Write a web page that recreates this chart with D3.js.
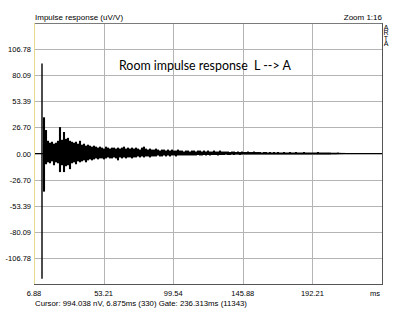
<!DOCTYPE html>
<html>
<head>
<meta charset="utf-8">
<script src="https://cdn.jsdelivr.net/npm/d3@7"></script>
<style>
  body { margin: 0; background: #fff; }
  svg { display: block; }
  text { font-family: "Liberation Sans", Arial, sans-serif; fill: #000; }
</style>
</head>
<body>
<div id="chart"></div>
<script>
// axis ticks
const xTicks = [6.88, 53.21, 99.54, 145.88, 192.21];
const yTicks = [-106.78, -80.09, -53.39, -26.70, 0, 26.70, 53.39, 80.09, 106.78];
const xDomain = [6.88, 238.54];
const yDomain = [-133.48, 133.48];

// envelope of the impulse response (uV/V), one sample every 1.3313 ms from 6.88 ms
const sampleStartMs = 6.88;
const sampleStepMs = 1.3313;
const upper = [
  0, 0, 0, 0, 92, 37, 24, 13, 11, 12,
  10, 11, 13, 27, 14, 22, 15, 16, 13, 12,
  11, 12, 10, 13, 9, 10, 8, 9, 8, 7,
  8, 7, 6, 7, 6, 5, 7, 6, 5, 6,
  6, 5, 6, 5, 6, 7, 5, 6, 5, 6,
  5, 6, 5, 4, 6, 7, 5, 4, 5, 4,
  4, 5, 4, 3, 4, 4, 3, 4, 3, 4,
  3, 3, 4, 3, 3, 2, 3, 3, 2, 3,
  3, 2, 3, 3, 2, 3, 2, 3, 2, 2,
  3, 2, 2, 3, 2, 2, 2, 2, 1.5, 2,
  2, 1.5, 2, 1.5, 2, 1.5, 1.5, 2, 1.5, 1.5,
  2, 1.5, 1.5, 1.5, 1, 1.5, 1.5, 1, 1.5, 1,
  1.5, 1, 1.5, 1, 1, 1.5, 1, 1, 1.5, 1,
  1, 1.5, 1, 1, 1, 1.5, 1, 1, 1, 1,
  1, 1, 1.5, 1, 1, 1, 1, 1, 1, 0.8,
  0.8, 0.8, 1, 0.7, 0.6, 0.6, 0.5, 0.5, 0.5, 0.5,
  0.5, 0.5, 0.5, 0.5, 0.5, 0.5, 0.5, 0.5, 0.5, 0.5,
  0.5, 0.5, 0.5, 0.5, 0.5
];
const lower = [
  0, 0, 0, 0, -128, -39, -11, -9, -10, -8,
  -12, -9, -10, -19, -12, -19, -13, -12, -16, -10,
  -9, -11, -8, -9, -8, -7, -9, -7, -6, -7,
  -6, -5, -6, -5, -5, -6, -5, -4, -5, -5,
  -4, -5, -7, -4, -5, -4, -5, -4, -4, -5,
  -4, -4, -3, -4, -3, -4, -3, -3, -4, -3,
  -3, -3, -2, -3, -3, -2, -3, -2, -3, -2,
  -2, -3, -2, -2, -2, -2, -2, -2, -2, -2,
  -2, -2, -1.5, -2, -2, -1.5, -2, -1.5, -2, -1.5,
  -1.5, -1.5, -2, -1.5, -1.5, -1.5, -1, -1.5, -1.5, -1,
  -1.5, -1, -1, -1.5, -1, -1, -1, -1, -1, -1,
  -1, -1, -1, -1, -1, -1, -1, -1, -1, -1,
  -1, -1, -1, -1, -1, -1, -1, -1, -1, -1,
  -1, -1, -1, -1, -1, -1, -1, -1, -1, -1,
  -1, -1, -1, -1, -1, -1, -1, -1, -1, -0.8,
  -0.8, -0.8, -0.7, -0.6, -0.6, -0.5, -0.5, -0.5, -0.5, -0.5,
  -0.5, -0.5, -0.5, -0.5, -0.5, -0.5, -0.5, -0.5, -0.5, -0.5,
  -0.5, -0.5, -0.5, -0.5, -0.5
];

const width = 405, height = 310;
const margin = {top: 23, right: 23, bottom: 26, left: 34};

const svg = d3.select("#chart").append("svg")
  .attr("width", width)
  .attr("height", height);

const x = d3.scaleLinear().domain(xDomain).range([margin.left, width - margin.right]);
const y = d3.scaleLinear().domain(yDomain).range([height - margin.bottom, margin.top]);

// grid
svg.append("g")
  .selectAll("line")
  .data(yTicks)
  .enter().append("line")
  .attr("x1", x.range()[0]).attr("x2", x.range()[1])
  .attr("y1", d => Math.round(y(d)) + 0.5).attr("y2", d => Math.round(y(d)) + 0.5)
  .attr("stroke", "#b4b4b4");

svg.append("g")
  .selectAll("line")
  .data(xTicks.slice(1))
  .enter().append("line")
  .attr("x1", d => Math.round(x(d)) + 0.5).attr("x2", d => Math.round(x(d)) + 0.5)
  .attr("y1", y.range()[1]).attr("y2", y.range()[0])
  .attr("stroke", "#b4b4b4");

// caption inside the plot
svg.append("text")
  .attr("x", 119)
  .attr("y", 70)
  .style("font-family", "Lato, 'Open Sans', sans-serif")
  .style("font-size", "12.4px")
  .attr("xml:space", "preserve")
  .text("Room impulse response  L --> A");

// zero trace across the whole gate
svg.append("line")
  .attr("x1", x(xDomain[0])).attr("x2", x(xDomain[1]))
  .attr("y1", y(0)).attr("y2", y(0))
  .attr("stroke", "#000")
  .attr("stroke-width", 1.2);

// signal: one vertical stroke per sample from its min to its max
const samples = upper.map((u, i) => ({t: sampleStartMs + i * sampleStepMs, hi: u, lo: lower[i]}));
svg.append("g")
  .selectAll("line")
  .data(samples)
  .enter().append("line")
  .attr("x1", d => x(d.t)).attr("x2", d => x(d.t))
  .attr("y1", d => y(d.hi)).attr("y2", d => y(d.lo))
  .attr("stroke", "#000")
  .attr("stroke-width", (d, i) => i === 4 ? 1.4 : 2.1);

// frame
const x0 = x.range()[0], x1 = x.range()[1], yt = y.range()[1], yb = y.range()[0];
svg.append("line").attr("x1", x0).attr("x2", x1).attr("y1", yt + 0.5).attr("y2", yt + 0.5)
  .attr("stroke", "#7a7a7a");
svg.append("line").attr("x1", x0).attr("x2", x1 + 1).attr("y1", yb + 0.5).attr("y2", yb + 0.5)
  .attr("stroke", "#555");
svg.append("line").attr("x1", x1 + 0.5).attr("x2", x1 + 0.5).attr("y1", yt).attr("y2", yb)
  .attr("stroke", "#555");
svg.append("line").attr("x1", x0 + 0.5).attr("x2", x0 + 0.5).attr("y1", yt).attr("y2", yb)
  .attr("stroke", "#e4dc8c");

// tick labels
svg.append("g")
  .selectAll("text")
  .data(yTicks)
  .enter().append("text")
  .attr("x", 31)
  .attr("y", d => y(d) + 3)
  .attr("text-anchor", "end")
  .style("font-size", "7.5px")
  .text(d => d.toFixed(2));

svg.append("g")
  .selectAll("text")
  .data(xTicks)
  .enter().append("text")
  .attr("x", d => x(d))
  .attr("y", 296)
  .attr("text-anchor", "middle")
  .style("font-size", "7.5px")
  .text(d => d.toFixed(2));

svg.append("text").attr("x", 380).attr("y", 296).attr("text-anchor", "end")
  .style("font-size", "7.5px").text("ms");

svg.append("text").attr("x", 35).attr("y", 20)
  .style("font-size", "8px").text("Impulse response (uV/V)");
svg.append("text").attr("x", 382).attr("y", 20).attr("text-anchor", "end")
  .style("font-size", "8px").text("Zoom 1:16");

svg.append("text").attr("x", 35).attr("y", 306)
  .style("font-size", "7.8px")
  .text("Cursor: 994.038 nV, 6.875ms (330)  Gate: 236.313ms (11343)");

// ARTA written top to bottom as one upright vertical text
svg.append("text")
  .attr("x", 386)
  .attr("y", 24)
  .style("font-size", "7px")
  .style("writing-mode", "vertical-rl")
  .style("text-orientation", "upright")
  .style("letter-spacing", "-1.6px")
  .text("ARTA");
</script>
</body>
</html>
